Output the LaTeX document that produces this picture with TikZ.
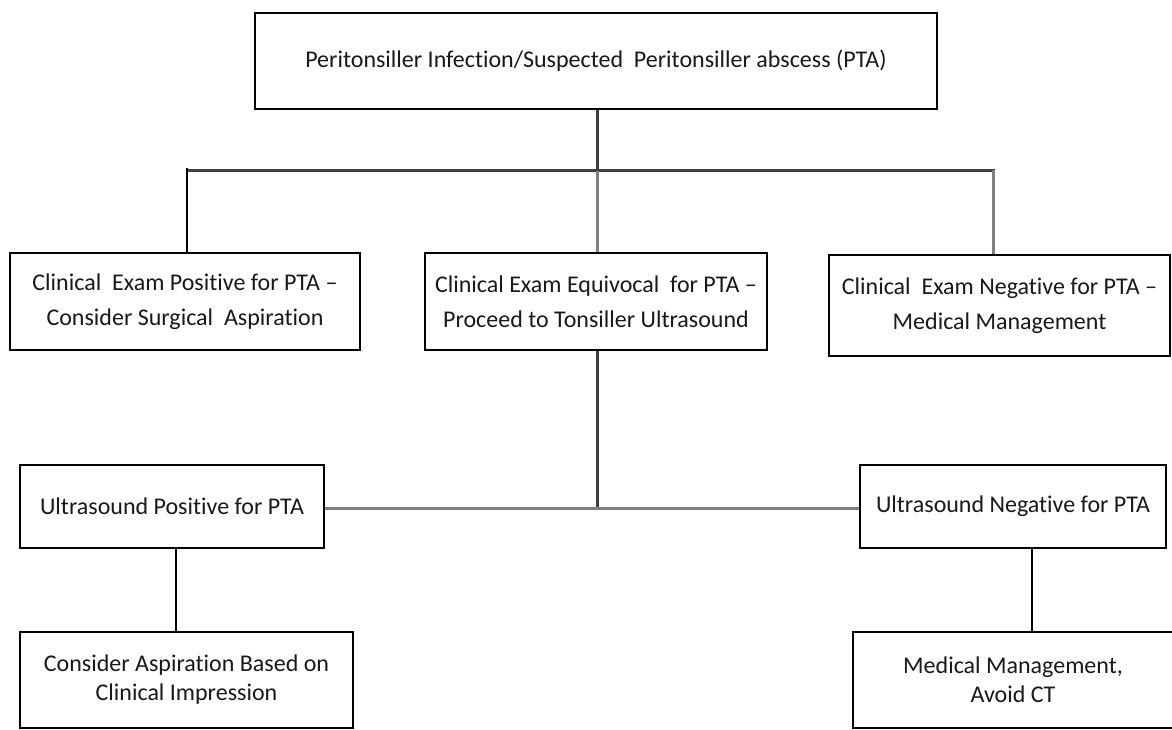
\documentclass[tikz,border=0pt]{standalone}
\usepackage{fontspec}
\setmainfont{Carlito}[Ligatures=NoCommon]
\begin{document}
\begin{tikzpicture}[x=1pt,y=-1pt,
  box/.style={draw=black,line width=2.6pt,rectangle,inner sep=0pt,align=center,
    font=\fontsize{24}{35}\selectfont,text=black!90},
  conn/.style={line width=2.6pt,draw=black},
  connG/.style={line width=3pt,draw=black!50},
  connD/.style={line width=3pt,draw=black!75}]
\useasboundingbox[fill=white] (0,0) rectangle (1172,730);
\node[box,minimum width=682pt,minimum height=96pt] (top) at (596,61) {Peritonsiller Infection/Suspected\ \ Peritonsiller abscess (PTA)};
\node[box,minimum width=350pt,minimum height=97pt] (c1) at (185,301.5) {Clinical\ \ Exam Positive for PTA --\\Consider Surgical\ \ Aspiration};
\node[box,minimum width=342pt,minimum height=97pt] (c2) at (596,301.5) {Clinical Exam Equivocal\ \ for PTA --\\Proceed to Tonsiller Ultrasound};
\node[box,minimum width=341pt,minimum height=101pt] (c3) at (999.5,305.5) {Clinical\ \ Exam Negative for PTA --\\Medical Management};
\node[box,minimum width=304pt,minimum height=83pt] (u1) at (172,506.5) {Ultrasound Positive for PTA};
\node[box,minimum width=306pt,minimum height=83pt] (u2) at (1013,506.5) {Ultrasound Negative for PTA};
\node[box,minimum width=333pt,minimum height=96pt,font=\fontsize{24}{29}\selectfont] (a1) at (186.5,680) {Consider Aspiration Based on\\Clinical Impression};
\node[box,minimum width=320pt,minimum height=96pt,font=\fontsize{24}{29}\selectfont] (a2) at (1013,680) {Medical Management,\\Avoid CT};
\coordinate (j1) at (597,171);
\coordinate (j2) at (597,508);
\draw[connD] (top.south -| j1) -- (j1);
\draw[connD] (j1) -- (j1 -| 187,0);
\draw[conn] ([xshift=2pt]c1.north) -- ++(0,-83.3);
\draw[connD] (j1) -| ([xshift=-6.5pt]c3.north);
\draw[connG] (j1) -- (c2.north -| j1);
\draw[connG] ([xshift=-6.5pt]c3.north) -- ++(0,-84);
\draw[connD] (c2.south -| j2) -- (j2);
\draw[connG] (u1.east |- j2) -- (u2.west |- j2);
\draw[conn] (u1.south) ++(4pt,0) -- (a1.north -| 176,0);
\draw[conn] ([xshift=19pt]u2.south) -- (a2.north -| 1032,0);
\end{tikzpicture}
\end{document}
